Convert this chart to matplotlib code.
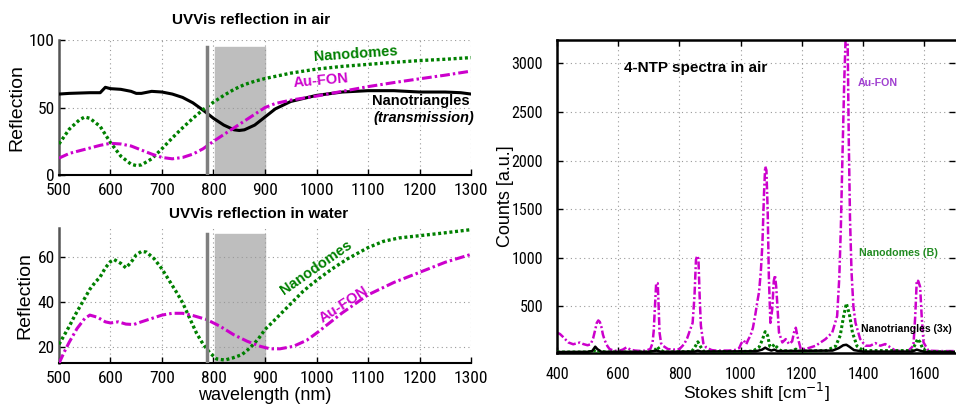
import matplotlib
matplotlib.use("Agg")
import matplotlib.pyplot as plt
import numpy as np

plt.rcParams["font.family"] = ["Liberation Sans", "DejaVu Sans"]

GREEN = "#008000"
MAGENTA = "#cc00cc"
TICK_FONT = ["Roboto Condensed", "Noto Sans Condensed", "Open Sans Condensed", "Liberation Sans Narrow",
             "Liberation Sans"]

# UV-Vis reflection in air (wavelength nm -> reflection)
air_tri_nm = [500, 520, 560, 580, 590, 600, 620, 640, 650, 660, 680, 700, 720, 740, 760, 780,
              800, 820, 840, 850, 860, 880, 900, 920, 950, 1000, 1050, 1100, 1150, 1200, 1250, 1280, 1300]
air_tri = [60, 60.5, 61, 61, 65, 64, 63.5, 62, 60.5, 60.5, 62, 61.5, 60, 57.5, 53.5, 48,
           42, 37, 33.5, 33, 33.5, 37, 43, 49, 54.5, 59, 61.5, 62.5, 62.5, 61.5, 61.5, 61, 60]

air_dome_nm = [500, 520, 540, 550, 560, 580, 600, 620, 640, 650, 660, 680, 700, 720, 740, 760, 780,
               800, 820, 840, 860, 880, 900, 950, 1000, 1050, 1100, 1150, 1200, 1250, 1300]
air_dome = [23, 34, 41, 43, 42, 36, 24, 14, 8, 7, 7.5, 12, 19.5, 27.5, 35, 42, 48.5,
            54, 59, 63.5, 67, 69.5, 71.5, 75.5, 78.5, 80.5, 82, 83.5, 84.8, 85.8, 87]

air_fon_nm = [500, 520, 550, 580, 600, 620, 640, 660, 680, 700, 720, 740, 760, 780,
              800, 820, 840, 860, 880, 900, 920, 950, 1000, 1050, 1100, 1150, 1200, 1250, 1300]
air_fon = [12.5, 16, 19, 22, 23.5, 23, 21.5, 18.5, 15.5, 13, 12, 13, 15.5, 19.5,
           25, 30, 35, 40, 45, 50, 53, 55.5, 58.5, 62, 65.5, 68.5, 71.3, 74, 77]

# UV-Vis reflection in water
wat_dome_nm = [500, 510, 520, 530, 540, 550, 560, 570, 580, 590, 600, 607, 620, 630, 640, 650, 660,
               670, 685, 700, 715, 730, 740, 755, 767, 780, 793, 806, 822, 838, 855, 871, 887,
               900, 913, 929, 942, 958, 974, 991, 1003, 1030, 1060, 1100, 1130, 1160, 1200, 1250, 1300]
wat_dome = [21, 25, 29, 33.5, 37.5, 41.5, 45.5, 48.5, 51, 55, 57.8, 58.7, 57, 55, 57.5, 60.8, 62.3,
            62, 59, 54.5, 49, 43.5, 39.5, 32, 26, 21, 17.2, 14.5, 14, 15, 16.4, 19.4, 23.4,
            27.6, 30.5, 34.2, 37.2, 40.9, 44.6, 47.8, 50, 54.5, 59, 64, 66.8, 68.3, 69.3, 70.6, 72]

wat_fon_nm = [500, 510, 520, 535, 550, 560, 575, 590, 600, 615, 630, 645, 660, 680, 700, 720, 740,
              760, 787, 813, 839, 865, 891, 910, 929, 955, 981, 1003, 1050, 1100, 1150, 1200, 1250, 1300]
wat_fon = [12.5, 17.5, 22, 28, 32.5, 34, 33, 31, 30.5, 31, 30, 29.8, 31, 32.5, 34, 34.8, 34.8,
           33.8, 32, 29, 25.3, 22.4, 20.1, 19, 19, 20.1, 22.8, 26.5, 35, 43, 48.5, 53, 57.5, 61]

# 4-NTP Raman spectra in air (Stokes shift cm^-1 -> counts)
fon_raman = [(400, 230), (410, 215), (420, 185), (437, 129), (453, 110), (465, 120), (475, 128),
             (486, 112), (500, 100), (510, 110), (518, 170), (525, 260), (530, 330), (535, 355),
             (540, 340), (545, 290), (550, 210), (556, 150), (565, 90), (572, 60), (585, 45),
             (600, 40), (615, 55), (627, 78), (640, 55), (655, 45), (670, 42), (690, 44), (705, 62),
             (712, 120), (716, 250), (720, 500), (724, 740), (729, 738), (732, 500), (735, 231),
             (740, 120), (746, 95), (762, 61), (780, 55), (800, 60), (815, 110), (825, 170),
             (835, 260), (843, 330), (849, 600), (854, 980), (858, 1020), (862, 990), (866, 600),
             (870, 300), (878, 120), (887, 78), (905, 50), (920, 45), (940, 45), (960, 45),
             (980, 50), (995, 70), (1002, 120), (1010, 150), (1018, 110), (1025, 160), (1032, 200),
             (1040, 280), (1048, 420), (1055, 560), (1060, 650), (1066, 870), (1071, 1150),
             (1076, 1650), (1080, 1940), (1084, 1900), (1088, 1500), (1092, 800), (1097, 330),
             (1103, 470), (1108, 760), (1112, 820), (1116, 700), (1120, 500), (1125, 231),
             (1136, 129), (1147, 163), (1158, 112), (1168, 140), (1174, 231), (1180, 280),
             (1185, 197), (1196, 61), (1212, 61), (1245, 95), (1277, 163), (1299, 231),
             (1315, 400), (1322, 800), (1327, 1300), (1332, 2000), (1338, 2800), (1343, 3300),
             (1349, 3300), (1353, 2200), (1357, 1400), (1362, 850), (1368, 500), (1375, 330),
             (1390, 165), (1407, 95), (1423, 95), (1440, 122), (1456, 95), (1472, 112),
             (1489, 78), (1505, 44), (1548, 44), (1564, 95), (1570, 400), (1575, 770),
             (1580, 760), (1586, 700), (1591, 400), (1597, 129), (1613, 44), (1650, 40), (1700, 40)]

dome_raman = [(400, 30), (500, 30), (520, 40), (528, 55), (535, 40), (560, 30), (700, 30),
              (720, 50), (728, 85), (735, 55), (750, 30), (840, 35), (852, 90), (860, 135),
              (868, 90), (880, 35), (1000, 35), (1040, 40), (1060, 80), (1070, 150), (1080, 240),
              (1088, 200), (1095, 90), (1102, 80), (1110, 110), (1118, 80), (1130, 45), (1170, 40),
              (1180, 60), (1190, 40), (1280, 45), (1310, 90), (1325, 200), (1335, 380), (1345, 530),
              (1355, 420), (1365, 230), (1380, 90), (1400, 45), (1560, 45), (1570, 110), (1578, 165),
              (1586, 130), (1595, 60), (1610, 35), (1700, 30)]

tri_raman = [(400, 30), (500, 32), (515, 40), (525, 85), (532, 60), (545, 32), (700, 32),
             (725, 45), (740, 32), (850, 35), (860, 45), (870, 35), (1050, 38), (1070, 55),
             (1080, 75), (1088, 60), (1100, 45), (1110, 55), (1120, 40), (1300, 45), (1320, 70),
             (1335, 100), (1345, 105), (1355, 85), (1370, 50), (1400, 35), (1560, 35), (1575, 55),
             (1585, 45), (1600, 32), (1700, 30)]

# laser line and Raman window marked on the UV-Vis panels
laser_nm = 787
raman_window = (803, 900)

dotted = (0, (0.9, 0.8))
dashdot = (0, (3.2, 1.0, 0.8, 1.0))

fig = plt.figure(figsize=(9.56, 4.04), dpi=100)
ax1 = fig.add_axes([0.0617, 0.5668, 0.431, 0.334])
ax2 = fig.add_axes([0.0617, 0.1015, 0.431, 0.334])
ax3 = fig.add_axes([0.5826, 0.1262, 0.4164, 0.7748])


def narrow_ticks(ax):
    for lab in ax.get_xticklabels() + ax.get_yticklabels():
        lab.set_family(TICK_FONT)
        lab.set_stretch("condensed")


def style_uvvis(ax):
    ax.set_xlim(500, 1300)
    ax.set_xticks(range(500, 1301, 100))
    ax.grid(True, color="#999999", linestyle=(0, (1, 3)), linewidth=0.8)
    ax.spines["top"].set_visible(False)
    ax.spines["right"].set_visible(False)
    ax.spines["left"].set_color("#555555")
    ax.spines["left"].set_linewidth(1.8)
    ax.spines["bottom"].set_linewidth(1.5)
    ax.tick_params(direction="in", labelsize=12.5, length=4, width=1)
    ax.tick_params(axis="x", pad=6)
    ax.tick_params(axis="y", pad=3)


# --- air ---
ax1.axvspan(raman_window[0], raman_window[1], ymin=0, ymax=0.95, color="#bebebe", zorder=0.5)
ax1.plot([laser_nm, laser_nm], [0, 95], color="#7f7f7f", lw=2.5, zorder=4)
ax1.plot(air_tri_nm, air_tri, color="black", lw=2.2, zorder=3)
ax1.plot(air_dome_nm, air_dome, color=GREEN, lw=2.4, linestyle=dotted, zorder=3)
ax1.plot(air_fon_nm, air_fon, color=MAGENTA, lw=2.2, linestyle=dashdot, zorder=3)
style_uvvis(ax1)
ax1.set_ylim(0, 100)
ax1.set_yticks([0, 50, 100])
narrow_ticks(ax1)
ax1.set_ylabel("Reflection", fontsize=14)
ax1.yaxis.set_label_coords(-0.0825, 0.5)
ax1.text(0.466, 1.148, "UVVis reflection in air", transform=ax1.transAxes,
         ha="center", va="center", fontsize=11, fontweight="bold")
ax1.text(993, 89.5, "Nanodomes", color=GREEN, fontsize=10.5, fontweight="bold",
         va="center", rotation=4)
ax1.text(954, 70, "Au-FON", color=MAGENTA, fontsize=10.5, fontweight="bold",
         va="center", rotation=5)
ax1.text(1108, 55, "Nanotriangles", color="black", fontsize=10.5, fontweight="bold", va="center")
ax1.text(1110, 42.5, "(transmission)", color="black", fontsize=10.5, fontweight="bold",
         style="italic", va="center")

# --- water ---
ax2.axvspan(raman_window[0], raman_window[1], ymin=0, ymax=(70 - 12.7) / 60, color="#bebebe", zorder=0.5)
ax2.plot([laser_nm, laser_nm], [12.7, 70], color="#7f7f7f", lw=2.5, zorder=4)
ax2.plot(wat_dome_nm, wat_dome, color=GREEN, lw=2.4, linestyle=dotted, zorder=3)
ax2.plot(wat_fon_nm, wat_fon, color=MAGENTA, lw=2.2, linestyle=dashdot, zorder=3)
style_uvvis(ax2)
ax2.set_ylim(12.7, 72.7)
ax2.set_yticks([20, 40, 60])
narrow_ticks(ax2)
ax2.set_ylabel("Reflection", fontsize=14)
ax2.yaxis.set_label_coords(-0.063, 0.5)
ax2.set_xlabel("wavelength (nm)", fontsize=13)
ax2.xaxis.set_label_coords(0.5, -0.175)
ax2.text(0.485, 1.104, "UVVis reflection in water", transform=ax2.transAxes,
         ha="center", va="center", fontsize=11, fontweight="bold")
ax2.text(999, 55.2, "Nanodomes", color=GREEN, fontsize=10.5, fontweight="bold",
         ha="center", va="center", rotation=35)
ax2.text(1052, 38.7, "Au-FON", color=MAGENTA, fontsize=10.5, fontweight="bold",
         ha="center", va="center", rotation=33)

# --- Raman ---
fx, fy = np.array(fon_raman).T
dx, dy = np.array(dome_raman).T
tx, ty = np.array(tri_raman).T
ax3.plot(tx, ty, color="black", lw=1.8, zorder=4)
ax3.plot(dx, dy, color=GREEN, lw=2.2, linestyle=dotted, zorder=3)
ax3.plot(fx, fy, color=MAGENTA, lw=1.8, linestyle=dashdot, zorder=2)
ax3.set_xlim(400, 1700)
ax3.set_ylim(20, 3240)
ax3.set_xticks(range(400, 1601, 200))
ax3.set_yticks(range(500, 3001, 500))
ax3.grid(True, color="#999999", linestyle=(0, (1, 3)), linewidth=0.8)
ax3.tick_params(direction="in", labelsize=11.5, length=4, width=1, top=True, right=True)
ax3.tick_params(axis="x", pad=10)
ax3.tick_params(axis="y", pad=10)
narrow_ticks(ax3)
for side in ["left", "bottom", "top"]:
    ax3.spines[side].set_linewidth(1.8)
ax3.spines["right"].set_visible(False)
ax3.set_ylabel("Counts [a.u.]", fontsize=13)
ax3.yaxis.set_label_coords(-0.108, 0.5)
ax3.set_xlabel("Stokes shift [cm$^{-1}$]", fontsize=12.5)
ax3.xaxis.set_label_coords(0.5, -0.088)
ax3.text(618, 2950, "4-NTP spectra in air", fontsize=11, fontweight="bold", va="center")
ax3.text(1382, 2795, "Au-FON", color="#a040d0", fontsize=7.7, fontweight="bold", va="center")
ax3.text(1385, 1050, "Nanodomes (B)", color="#228b22", fontsize=7.7, fontweight="bold", va="center")
ax3.text(1392, 265, "Nanotriangles (3x)", color="black", fontsize=7.5, fontweight="bold", va="center")

fig.savefig("out.png", dpi=100)
